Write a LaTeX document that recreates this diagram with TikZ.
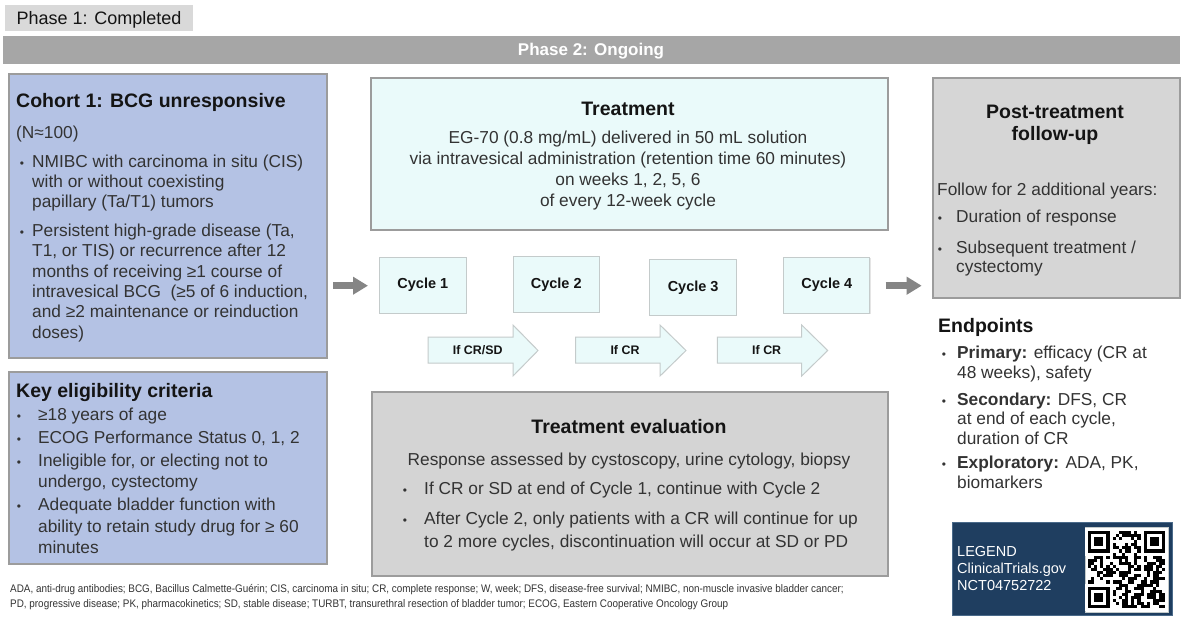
\documentclass[tikz,border=0pt]{standalone}
\usepackage{fontspec}
\setmainfont{Liberation Sans}
\newfontfamily\narrowfont[FakeStretch=0.9]{Liberation Sans}
\usetikzlibrary{arrows.meta,shadows}
\definecolor{cohortblue}{HTML}{B4C2E4}
\definecolor{treatcyan}{HTML}{EAFAFA}
\definecolor{evalgray}{HTML}{D4D4D4}
\definecolor{postgray}{HTML}{D6D6D6}
\definecolor{bordergray}{HTML}{9C9C9C}
\definecolor{lightborder}{HTML}{C4CBCB}
\definecolor{arrowgray}{HTML}{858585}
\definecolor{navy}{HTML}{1F3E60}
\definecolor{navyborder}{HTML}{4A6A8A}
\definecolor{phaseone}{HTML}{D9D9D9}
\definecolor{phasetwo}{HTML}{A6A6A6}
\definecolor{bodytext}{HTML}{333333}
\definecolor{headtext}{HTML}{141414}
\begin{document}
\begin{tikzpicture}[x=1pt,y=-1pt,
  panel/.style={draw=bordergray, line width=1.5pt, inner sep=0, anchor=north west,
    drop shadow={shadow xshift=1pt, shadow yshift=-1pt, opacity=0.25}},
  cyclebox/.style={draw=lightborder, line width=1pt, fill=treatcyan, inner sep=0, anchor=north west,
    font=\bfseries\fontsize{14.5}{16}\selectfont, text=headtext,
    drop shadow={shadow xshift=0.8pt, shadow yshift=-0.8pt, opacity=0.2}},
  chev/.style={draw=lightborder, line width=1pt, fill=treatcyan},
  chevtext/.style={font=\bfseries\fontsize{12.4}{14}\selectfont, text=headtext, inner sep=0},
  head/.style={font=\bfseries\fontsize{19.5}{21.3}\selectfont, text=headtext, inner sep=0},
  body/.style={font=\fontsize{17.3}{20.3}\selectfont, text=bodytext, inner sep=0, anchor=base west, align=left},
  bul/.style={font=\fontsize{12}{12}\selectfont, text=bodytext, inner sep=0, anchor=base},
  bigarrow/.style={draw=arrowgray, line width=6.5pt, -{Triangle[length=15pt,width=17pt]}}
]
\useasboundingbox (0,0) rectangle (1200,633);
\fill[white] (0,0) rectangle (1200,633);

% phase headers
\node[fill=phaseone, inner sep=0, anchor=north west, minimum width=188, minimum height=26] (phaseone) at (5,5) {};
\node[font=\fontsize{18}{20}\selectfont, text=headtext, inner sep=0, anchor=base] (phaseonetext) at (99,24.8) {Phase 1: Completed};
\node[fill=phasetwo, inner sep=0, anchor=north west, minimum width=1177, minimum height=28] (phasetwo) at (3,35.5) {};
\node[font=\bfseries\fontsize{17}{20}\selectfont, text=white, inner sep=0, anchor=base] (phasetwotext) at (591,55.6) {Phase 2: Ongoing};

% cohort box (multi-line nodes are placed by the baseline of their last line)
\node[panel, fill=cohortblue, minimum width=318, minimum height=284] (cohort) at (8,73) {};
\node[head, anchor=base west] (cohorthead) at (16,107) {Cohort 1: BCG unresponsive};
\node[body] (cohortn) at (16,138) {(N≈100)};
\node[bul] (cb1) at (22,167) {•};
\node[body] (ct1) at (32,207.6) {NMIBC with carcinoma in situ (CIS)\\with or without coexisting\\papillary (Ta/T1) tumors};
\node[bul] (cb2) at (22,236.5) {•};
\node[body] (ct2) at (32,338) {Persistent high-grade disease (Ta,\\T1, or TIS) or recurrence after 12\\months of receiving ≥1 course of\\intravesical BCG\ \ (≥5 of 6 induction,\\and ≥2 maintenance or reinduction\\doses)};

% key eligibility box
\node[panel, fill=cohortblue, minimum width=318, minimum height=192] (key) at (8,371) {};
\node[head, anchor=base west] (keyhead) at (16,397) {Key eligibility criteria};
\node[bul] (kb1) at (19,420) {•};
\node[body] (kt1) at (38,420) {≥18 years of age};
\node[bul] (kb2) at (19,443) {•};
\node[body] (kt2) at (38,443) {ECOG Performance Status 0, 1, 2};
\node[bul] (kb3) at (19,466) {•};
\node[body, font=\fontsize{17.3}{21.5}\selectfont] (kt3) at (38,487.5) {Ineligible for, or electing not to\\undergo, cystectomy};
\node[bul] (kb4) at (19,510.5) {•};
\node[body, font=\fontsize{17.3}{21.5}\selectfont] (kt4) at (38,553.5) {Adequate bladder function with\\ability to retain study drug for ≥ 60\\minutes};

% treatment box
\node[panel, fill=treatcyan, minimum width=517, minimum height=152] (treat) at (370,77) {};
\node[head, anchor=base] (treathead) at (628,115) {Treatment};
\node[body, font=\fontsize{17.3}{21.3}\selectfont, align=center, anchor=base] (treattext) at (628,206.9) {EG-70 (0.8 mg/mL) delivered in 50 mL solution\\via intravesical administration (retention time 60 minutes)\\on weeks 1, 2, 5, 6\\of every 12-week cycle};

% cycles
\node[cyclebox, minimum width=86.7, minimum height=56] (c1) at (379,256.7) {Cycle 1};
\node[cyclebox, minimum width=86, minimum height=55.7] (c2) at (512.7,256) {Cycle 2};
\node[cyclebox, minimum width=86.7, minimum height=56] (c3) at (649.3,259) {Cycle 3};
\node[cyclebox, minimum width=86, minimum height=56] (c4) at (783.3,256.7) {Cycle 4};

% chevrons
\filldraw[chev] (428,337) -- (513,337) -- (513,325) -- (538,350.5) -- (513,376) -- (513,363) -- (428,363) -- cycle;
\node[chevtext] (ch1) at (477.7,350.5) {If CR/SD};
\filldraw[chev] (575.7,337) -- (660,337) -- (660,325) -- (686,350.5) -- (660,376) -- (660,363) -- (575.7,363) -- cycle;
\node[chevtext] (ch2) at (625,350.5) {If CR};
\filldraw[chev] (717.3,337) -- (801.7,337) -- (801.7,325) -- (827.7,350.5) -- (801.7,376) -- (801.7,363) -- (717.3,363) -- cycle;
\node[chevtext] (ch3) at (766.7,350.5) {If CR};

% big gray arrows
\coordinate (la1) at (333,285.7);
\coordinate (la2) at (368,285.7);
\coordinate (ra1) at (885.7,285.7);
\coordinate (ra2) at (921.7,285.7);
\draw[bigarrow] (la1) -- (la2);
\draw[bigarrow] (ra1) -- (ra2);

% evaluation box
\node[panel, fill=evalgray, minimum width=516, minimum height=184] (eval) at (371,391) {};
\node[head, anchor=base] (evalhead) at (629,433) {Treatment evaluation};
\node[body, anchor=base] (evalresp) at (629,465) {Response assessed by cystoscopy, urine cytology, biopsy};
\node[bul] (eb1) at (405,494) {•};
\node[body] (et1) at (424,494) {If CR or SD at end of Cycle 1, continue with Cycle 2};
\node[bul] (eb2) at (405,524) {•};
\node[body, font=\fontsize{17.3}{23.5}\selectfont] (et2) at (424,547.5) {After Cycle 2, only patients with a CR will continue for up\\to 2 more cycles, discontinuation will occur at SD or PD};

% post-treatment box
\node[panel, fill=postgray, minimum width=247, minimum height=220] (post) at (932,77) {};
\node[head, align=center, anchor=base] (posthead) at (1055,140) {Post-treatment\\follow-up};
\node[body] (postfollow) at (937,195) {Follow for 2 additional years:};
\node[bul] (pb1) at (940,222) {•};
\node[body] (pt1) at (956,222) {Duration of response};
\node[bul] (pb2) at (940,253) {•};
\node[body, font=\fontsize{17.3}{19.5}\selectfont] (pt2) at (956,272.5) {Subsequent treatment /\\cystectomy};

% endpoints
\node[head, anchor=base west] (endhead) at (938,332) {Endpoints};
\node[bul] (nb1) at (944,358) {•};
\node[body, font=\fontsize{17.3}{20}\selectfont] (nt1) at (957,378) {\textbf{Primary:} efficacy (CR at\\48 weeks), safety};
\node[bul] (nb2) at (944,405) {•};
\node[body, font=\fontsize{17.3}{19.5}\selectfont] (nt2) at (957,444) {\textbf{Secondary:} DFS, CR\\at end of each cycle,\\duration of CR};
\node[bul] (nb3) at (944,468) {•};
\node[body, font=\fontsize{17.3}{20}\selectfont] (nt3) at (957,488) {\textbf{Exploratory:} ADA, PK,\\biomarkers};

% legend
\node[fill=navy, draw=navyborder, line width=0.8pt, inner sep=0, anchor=north west, minimum width=220, minimum height=93] (legend) at (952,522) {};
\node[body, text=white, font=\fontsize{14.5}{17}\selectfont] (legendtext) at (957,590) {LEGEND\\ClinicalTrials.gov\\NCT04752722};
\node[fill=white, draw=lightborder, line width=0.5pt, inner sep=0, anchor=north west, minimum width=83, minimum height=85] (qr) at (1085,527) {};
\pgfmathsetseed{11}
\foreach \i in {0,...,24}{
  \foreach \j in {0,...,24}{
    \pgfmathrandominteger{\r}{0}{1}
    \ifnum\r=1 \fill[black] (1087.8+\i*3.1,530.8+\j*3.1) rectangle ++(3.1,3.1);\fi
  }
}
\foreach \fx/\fy in {0/0,18/0,0/18}{
  \fill[white] (1087.8+\fx*3.1-3.1,530.8+\fy*3.1-3.1) rectangle ++(27.9,27.9);
  \fill[black] (1087.8+\fx*3.1,530.8+\fy*3.1) rectangle ++(21.7,21.7);
  \fill[white] (1087.8+\fx*3.1+3.1,530.8+\fy*3.1+3.1) rectangle ++(15.5,15.5);
  \fill[black] (1087.8+\fx*3.1+6.2,530.8+\fy*3.1+6.2) rectangle ++(9.3,9.3);
}
\fill[white] (1085.5,527.5) rectangle (1087.8,611.5);
\fill[white] (1085.5,527.5) rectangle (1167.5,530.8);

% footnote
\node[font=\narrowfont\fontsize{11}{13}\selectfont, text=bodytext, inner sep=0, anchor=base west] (foot1) at (10,592) {ADA, anti-drug antibodies; BCG, Bacillus Calmette-Guérin; CIS, carcinoma in situ; CR, complete response; W, week; DFS, disease-free survival; NMIBC, non-muscle invasive bladder cancer;};
\node[font=\narrowfont\fontsize{11}{13}\selectfont, text=bodytext, inner sep=0, anchor=base west] (foot2) at (10,607) {PD, progressive disease; PK, pharmacokinetics; SD, stable disease; TURBT, transurethral resection of bladder tumor; ECOG, Eastern Cooperative Oncology Group};
\end{tikzpicture}
\end{document}
